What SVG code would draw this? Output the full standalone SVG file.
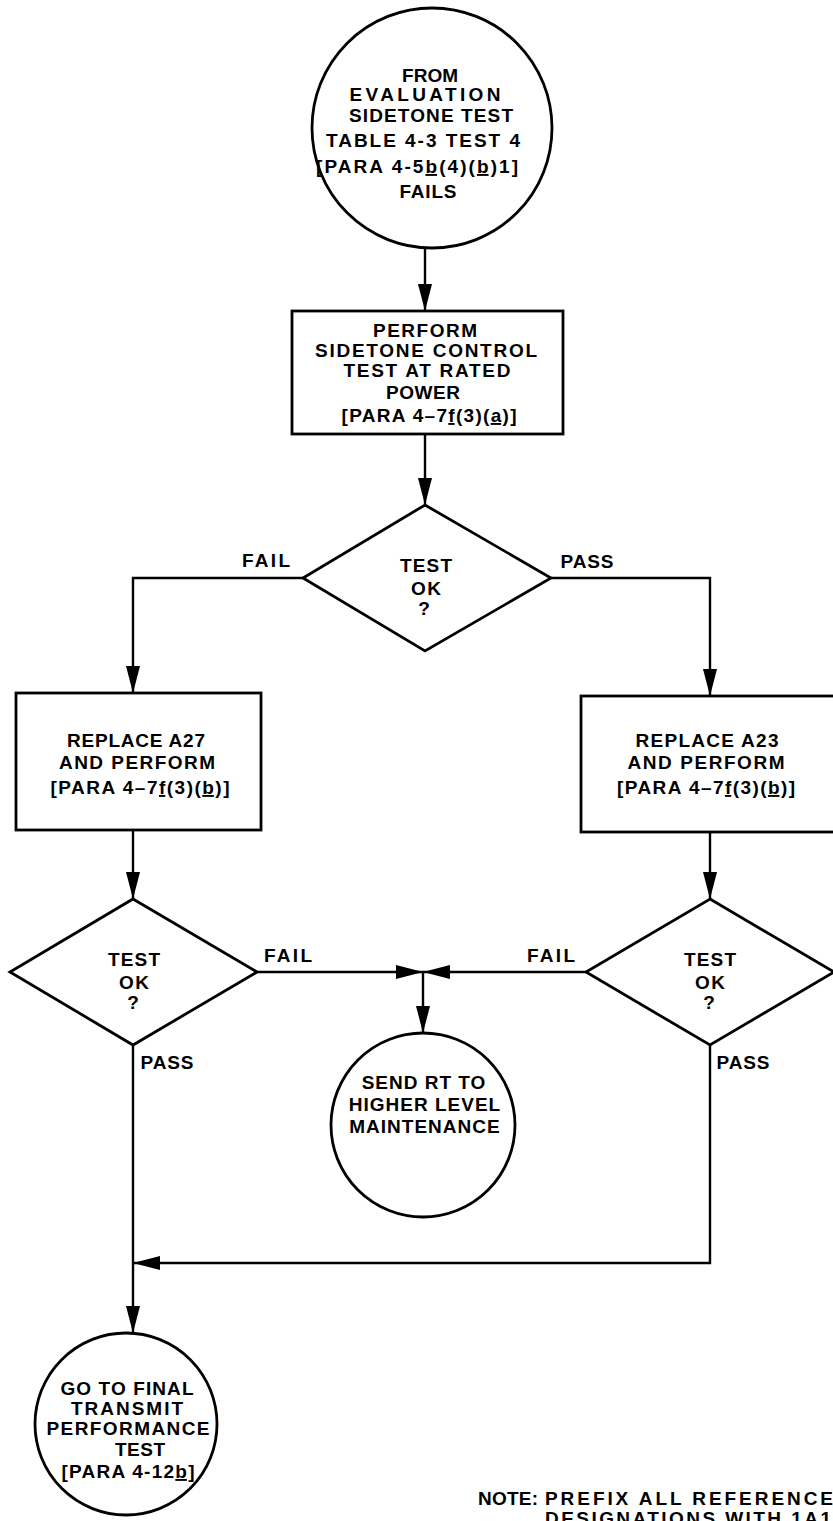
<svg xmlns="http://www.w3.org/2000/svg" width="833" height="1521" viewBox="0 0 833 1521">
<defs>
<style>
.s{fill:#fff;stroke:#000;stroke-width:2.8}
.c{fill:none;stroke:#000;stroke-width:2.4}
text{font-family:"Liberation Sans",Arial,sans-serif;font-size:19px;font-weight:bold;fill:#000;text-anchor:middle}
.u{text-decoration:underline}
.st{text-anchor:start}
</style>
<marker id="ah" viewBox="0 0 27 14" refX="27" refY="7" markerWidth="27" markerHeight="14" markerUnits="userSpaceOnUse" orient="auto">
<path d="M0,0 L27,7 L0,14 Z" fill="#000"/>
</marker>
</defs>
<rect width="833" height="1521" fill="#fff"/>

<g id="connectors">
<path class="c" d="M425,248 V311" marker-end="url(#ah)"/>
<path class="c" d="M425,434 V505" marker-end="url(#ah)"/>
<path class="c" d="M303,578 H133 V693" marker-end="url(#ah)"/>
<path class="c" d="M551,578 H710 V696" marker-end="url(#ah)"/>
<path class="c" d="M133,830 V899" marker-end="url(#ah)"/>
<path class="c" d="M710,832 V899" marker-end="url(#ah)"/>
<path class="c" d="M257,972 H423" marker-end="url(#ah)"/>
<path class="c" d="M586,972 H423" marker-end="url(#ah)"/>
<path class="c" d="M423,972 V1033" marker-end="url(#ah)"/>
<path class="c" d="M133,1045 V1333" marker-end="url(#ah)"/>
<path class="c" d="M710,1045 V1263 H133" marker-end="url(#ah)"/>
</g>

<g id="start">
<circle class="s" cx="432" cy="128" r="120"/>
<text x="430" y="82" textLength="56" lengthAdjust="spacing">FROM</text>
<text x="425" y="101" textLength="151" lengthAdjust="spacing">EVALUATION</text>
<text x="431" y="122" textLength="164" lengthAdjust="spacing">SIDETONE TEST</text>
<text x="423" y="147" textLength="194" lengthAdjust="spacing">TABLE 4-3 TEST 4</text>
<text x="417" y="173" textLength="202" lengthAdjust="spacing">[PARA 4-5<tspan class="u">b</tspan>(4)(<tspan class="u">b</tspan>)1]</text>
<text x="428" y="198" textLength="57" lengthAdjust="spacing">FAILS</text>
</g>

<g id="perform-sidetone">
<rect class="s" x="292" y="311" width="271" height="123"/>
<text x="425" y="337" textLength="104" lengthAdjust="spacing">PERFORM</text>
<text x="426" y="357" textLength="222" lengthAdjust="spacing">SIDETONE CONTROL</text>
<text x="427" y="377" textLength="167" lengthAdjust="spacing">TEST AT RATED</text>
<text x="423" y="399" textLength="74" lengthAdjust="spacing">POWER</text>
<text x="429" y="422" textLength="175" lengthAdjust="spacing">[PARA 4–7<tspan class="u">f</tspan>(3)(<tspan class="u">a</tspan>)]</text>
</g>

<g id="decision-1">
<polygon class="s" points="425,505 551,578 425,651 303,578"/>
<text x="426" y="572" textLength="52" lengthAdjust="spacing">TEST</text>
<text x="426" y="595" textLength="30" lengthAdjust="spacing">OK</text>
<text x="424" y="615">?</text>
<text x="266" y="567" textLength="48" lengthAdjust="spacing">FAIL</text>
<text x="587" y="568" textLength="53" lengthAdjust="spacing">PASS</text>
</g>

<g id="replace-a27">
<rect class="s" x="16" y="693" width="245" height="137"/>
<text x="136" y="747" textLength="138" lengthAdjust="spacing">REPLACE A27</text>
<text x="137" y="769" textLength="156" lengthAdjust="spacing">AND PERFORM</text>
<text x="140" y="794" textLength="179" lengthAdjust="spacing">[PARA 4–7<tspan class="u">f</tspan>(3)(<tspan class="u">b</tspan>)]</text>
</g>

<g id="replace-a23">
<rect class="s" x="581" y="696" width="262" height="136"/>
<text x="707" y="747" textLength="143" lengthAdjust="spacing">REPLACE A23</text>
<text x="706" y="769" textLength="157" lengthAdjust="spacing">AND PERFORM</text>
<text x="706" y="794" textLength="178" lengthAdjust="spacing">[PARA 4–7<tspan class="u">f</tspan>(3)(<tspan class="u">b</tspan>)]</text>
</g>

<g id="decision-left">
<polygon class="s" points="133,899 257,972 133,1045 10,972"/>
<text x="134" y="966" textLength="52" lengthAdjust="spacing">TEST</text>
<text x="134" y="989" textLength="30" lengthAdjust="spacing">OK</text>
<text x="133" y="1009">?</text>
<text x="288" y="962" textLength="48" lengthAdjust="spacing">FAIL</text>
<text x="167" y="1069" textLength="53" lengthAdjust="spacing">PASS</text>
</g>

<g id="decision-right">
<polygon class="s" points="710,899 834,972 710,1045 586,972"/>
<text x="710" y="966" textLength="52" lengthAdjust="spacing">TEST</text>
<text x="710" y="989" textLength="30" lengthAdjust="spacing">OK</text>
<text x="709" y="1009">?</text>
<text x="551" y="962" textLength="48" lengthAdjust="spacing">FAIL</text>
<text x="743" y="1069" textLength="53" lengthAdjust="spacing">PASS</text>
</g>

<g id="send-rt">
<circle class="s" cx="423" cy="1125" r="92"/>
<text x="424" y="1089" style="letter-spacing:1px">SEND RT TO</text>
<text x="425" y="1111" style="letter-spacing:1px">HIGHER LEVEL</text>
<text x="425" y="1133" style="letter-spacing:1px">MAINTENANCE</text>
</g>

<g id="final-test">
<circle class="s" cx="126" cy="1424" r="91"/>
<text x="127" y="1395" textLength="133" lengthAdjust="spacing">GO TO FINAL</text>
<text x="127" y="1415" textLength="112" lengthAdjust="spacing">TRANSMIT</text>
<text x="128" y="1435" textLength="163" lengthAdjust="spacing">PERFORMANCE</text>
<text x="140" y="1456" textLength="50" lengthAdjust="spacing">TEST</text>
<text x="128" y="1478" textLength="133" lengthAdjust="spacing">[PARA 4-12<tspan class="u">b</tspan>]</text>
</g>

<g id="note">
<text class="st" x="478" y="1505" textLength="60" lengthAdjust="spacing">NOTE:</text>
<text class="st" x="545" y="1505" textLength="288" lengthAdjust="spacing">PREFIX ALL REFERENCE</text>
<text class="st" x="545" y="1525" textLength="286" lengthAdjust="spacing">DESIGNATIONS WITH 1A1</text>
</g>
</svg>
